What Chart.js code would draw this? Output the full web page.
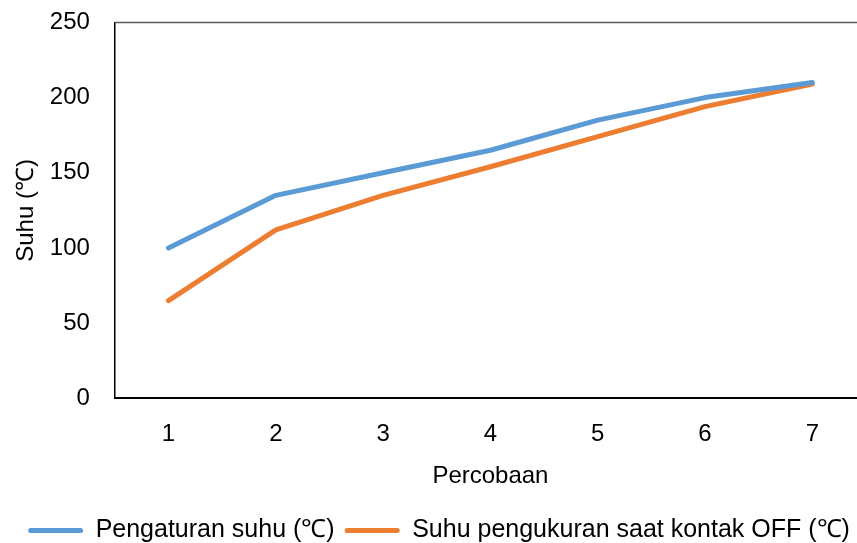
<!DOCTYPE html>
<html>
<head>
<meta charset="utf-8">
<script src="https://cdn.jsdelivr.net/npm/chart.js@4"></script>
<style>
  html, body { margin: 0; padding: 0; background: #ffffff; overflow: hidden; }
  #wrap { position: relative; width: 866px; height: 570px; margin-top: -17px; }
</style>
</head>
<body>
<div id="wrap"><canvas id="chart"></canvas></div>
<script>
// data
const percobaan = ['1', '2', '3', '4', '5', '6', '7'];
const pengaturanSuhu = [100, 135, 150, 165, 185, 200, 210];
const suhuKontakOff = [65, 112, 135, 154, 174, 194, 209];
const yTicks = [0, 50, 100, 150, 200, 250];

// top border of the plot box
const frameTop = {
    id: 'frameTop',
    afterDraw(chart) {
        const { ctx, chartArea } = chart;
        ctx.save();
        ctx.strokeStyle = '#595959';
        ctx.lineWidth = 1.5;
        ctx.beginPath();
        ctx.moveTo(chartArea.left, chartArea.top);
        ctx.lineTo(chartArea.right, chartArea.top);
        ctx.stroke();
        ctx.restore();
    }
};

const tickFont = { family: 'Liberation Sans, Arial, sans-serif', size: 24 };

new Chart(document.getElementById('chart').getContext('2d'), {
    type: 'line',
    data: {
        labels: percobaan,
        datasets: [
            {
                label: 'Pengaturan suhu (\u2103)',
                data: pengaturanSuhu,
                borderColor: '#5B9BD5',
                backgroundColor: '#5B9BD5',
                borderWidth: 5,
                borderCapStyle: 'round',
                borderJoinStyle: 'round',
                pointRadius: 0,
                tension: 0
            },
            {
                label: 'Suhu pengukuran saat kontak OFF (\u2103)',
                data: suhuKontakOff,
                borderColor: '#ED7D31',
                backgroundColor: '#ED7D31',
                borderWidth: 5,
                borderCapStyle: 'round',
                borderJoinStyle: 'round',
                pointRadius: 0,
                tension: 0
            }
        ]
    },
    options: {
        responsive: true,
        maintainAspectRatio: false,
        animation: false,
        layout: { padding: { top: 0, left: 12, right: 0, bottom: 0 } },
        plugins: {
            legend: {
                position: 'bottom',
                labels: {
                    color: '#000000',
                    font: { family: 'Liberation Sans, Arial, sans-serif', size: 25 },
                    boxWidth: 55,
                    boxHeight: 5,
                    padding: 10,
                    generateLabels(chart) {
                        return chart.data.datasets.map((ds, i) => ({
                            text: ds.label,
                            fillStyle: ds.borderColor,
                            strokeStyle: ds.borderColor,
                            lineWidth: 0,
                            borderRadius: 2.5,
                            datasetIndex: i,
                            fontColor: '#000000'
                        }));
                    }
                }
            },
            tooltip: { enabled: false }
        },
        scales: {
            x: {
                offset: true,
                grid: { display: false, offset: true, drawTicks: false },
                border: { display: true, color: '#000000', width: 2 },
                ticks: { color: '#000000', font: tickFont, padding: 22 },
                title: {
                    display: true,
                    text: 'Percobaan',
                    color: '#000000',
                    font: tickFont,
                    padding: { top: -9, bottom: 17 }
                }
            },
            y: {
                min: 0,
                max: 250,
                afterBuildTicks(scale) {
                    scale.ticks = yTicks.map(v => ({ value: v }));
                },
                grid: { display: false, drawTicks: false },
                border: { display: true, color: '#000000', width: 1.5 },
                ticks: { color: '#000000', font: tickFont, padding: 25 },
                title: {
                    display: true,
                    text: 'Suhu (\u2103)',
                    color: '#000000',
                    font: tickFont,
                    padding: { top: 0, bottom: -16 }
                }
            }
        }
    },
    plugins: [frameTop]
});
</script>
</body>
</html>
